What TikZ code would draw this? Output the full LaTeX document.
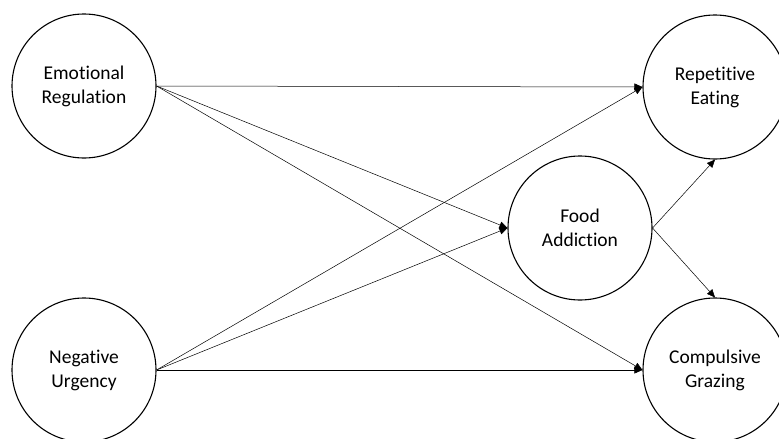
\documentclass[tikz,border=0pt]{standalone}
\usepackage{fontspec}
\setmainfont{Carlito}[Ligatures=CommonOff]
\usetikzlibrary{arrows.meta}
\begin{document}
\begin{tikzpicture}[x=1pt,y=-1pt,
  latent/.style={circle, draw, line width=1.1pt, minimum size=144pt, inner sep=0pt, align=center, font=\fontsize{19.5}{24}\selectfont},
  path/.style={line width=0.5pt, -{Triangle[length=8pt,width=7pt]}}]
\useasboundingbox (0,0) rectangle (779,439);
\node[latent] (er) at (84,86) {Emotional\\Regulation};
\node[latent] (nu) at (84,370) {Negative\\Urgency};
\node[latent] (fa) at (580,228) {Food\\Addiction};
\node[latent] (re) at (715,87) {Repetitive\\Eating};
\node[latent] (cg) at (715,370) {Compulsive\\Grazing};
\draw[path] (er.east) -- (re.west);
\draw[path] (er.east) -- (fa.west);
\draw[path] (er.east) -- (cg.west);
\draw[path] (nu.east) -- (re.west);
\draw[path] (nu.east) -- (fa.west);
\draw[path] (nu.east) -- (cg.west);
\draw[path] (fa.east) -- (re.south);
\draw[path] (fa.east) -- (cg.north);
\end{tikzpicture}
\end{document}
